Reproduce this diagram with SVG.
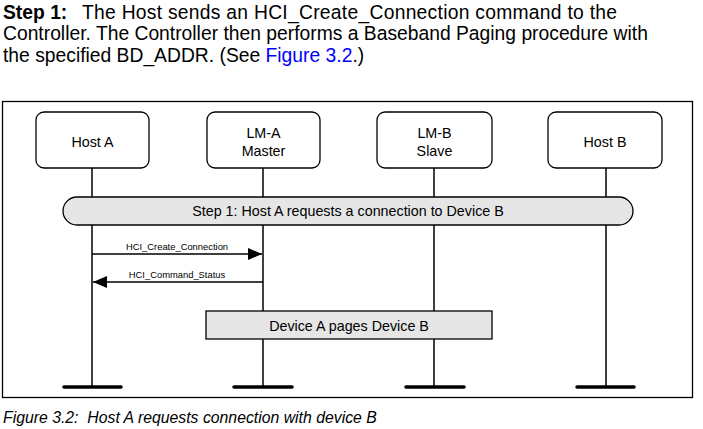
<svg xmlns="http://www.w3.org/2000/svg" width="703" height="429" viewBox="0 0 703 429">
<style>
.hdr{font-family:"Liberation Sans",Arial,sans-serif;font-size:19.3px;fill:#000}
.node rect{fill:#fff;stroke:#000;stroke-width:1.3}
.nt{font-family:"Liberation Sans",Arial,sans-serif;font-size:14.3px;fill:#000;text-anchor:middle}
.life{stroke:#000;stroke-width:1.5}
.bar{stroke:#000;stroke-width:3.5;stroke-linecap:round}
.msg{stroke:#000;stroke-width:1.3;fill:none}
.ml{font-family:"Liberation Sans",Arial,sans-serif;font-size:9.4px;fill:#000;text-anchor:middle}
.band{fill:#e6e6e6;stroke:#000;stroke-width:1.3}
</style>
<defs>
<marker id="ah" markerWidth="14" markerHeight="12" refX="14" refY="6" orient="auto" markerUnits="userSpaceOnUse">
<path d="M0,0 L14,6 L0,12 Z" fill="#000"/>
</marker>
</defs>
<rect width="703" height="429" fill="#fff"/>
<g id="header">
<text class="hdr" x="3" y="18.5"><tspan font-weight="bold">Step 1:</tspan><tspan x="82" textLength="535" lengthAdjust="spacing">The Host sends an HCI_Create_Connection command to the</tspan></text>
<text class="hdr" x="3" y="40">Controller. The Controller then performs a Baseband Paging procedure with</text>
<text class="hdr" x="3" y="62">the specified BD_ADDR. (See <tspan fill="#0000ff">Figure 3.2</tspan>.)</text>
</g>
<rect id="frame" x="2.5" y="101.5" width="690" height="296" fill="none" stroke="#000" stroke-width="1.3"/>
<g id="lifelines">
<line class="life" x1="92" y1="168" x2="92" y2="387"/>
<line class="life" x1="263" y1="168" x2="263" y2="387"/>
<line class="life" x1="434" y1="168" x2="434" y2="387"/>
<line class="life" x1="606" y1="168" x2="606" y2="387"/>
<line class="bar" x1="64" y1="387" x2="121" y2="387"/>
<line class="bar" x1="234" y1="387" x2="292" y2="387"/>
<line class="bar" x1="406" y1="387" x2="464" y2="387"/>
<line class="bar" x1="577" y1="387" x2="634" y2="387"/>
</g>
<g id="hostA" class="node">
<rect x="36" y="112" width="113" height="56" rx="8"/>
<text class="nt" x="92.5" y="147">Host A</text>
</g>
<g id="lmA" class="node">
<rect x="207" y="112" width="113" height="56" rx="8"/>
<text class="nt" x="263.5" y="138">LM-A</text>
<text class="nt" x="263.5" y="156">Master</text>
</g>
<g id="lmB" class="node">
<rect x="377" y="112" width="115" height="56" rx="8"/>
<text class="nt" x="434.5" y="138">LM-B</text>
<text class="nt" x="434.5" y="156">Slave</text>
</g>
<g id="hostB" class="node">
<rect x="548" y="112" width="114" height="56" rx="8"/>
<text class="nt" x="605" y="147">Host B</text>
</g>
<g id="step1">
<rect class="band" x="63" y="197" width="570" height="28" rx="14"/>
<text class="nt" x="348" y="216">Step 1: Host A requests a connection to Device B</text>
</g>
<g id="connectors">
<line class="msg" x1="92" y1="254" x2="262" y2="254" marker-end="url(#ah)"/>
<text class="ml" x="177" y="250">HCI_Create_Connection</text>
<line class="msg" x1="263" y1="282" x2="93" y2="282" marker-end="url(#ah)"/>
<text class="ml" x="177" y="278">HCI_Command_Status</text>
</g>
<g id="paging">
<rect x="206" y="311" width="286" height="28" fill="#e6e6e6" stroke="#000" stroke-width="1.3"/>
<text class="nt" x="349" y="331">Device A pages Device B</text>
</g>
<text id="caption" x="3" y="423" font-family="'Liberation Sans',Arial,sans-serif" font-size="15.8" font-style="italic">Figure 3.2:&#160; Host A requests connection with device B</text>
</svg>
